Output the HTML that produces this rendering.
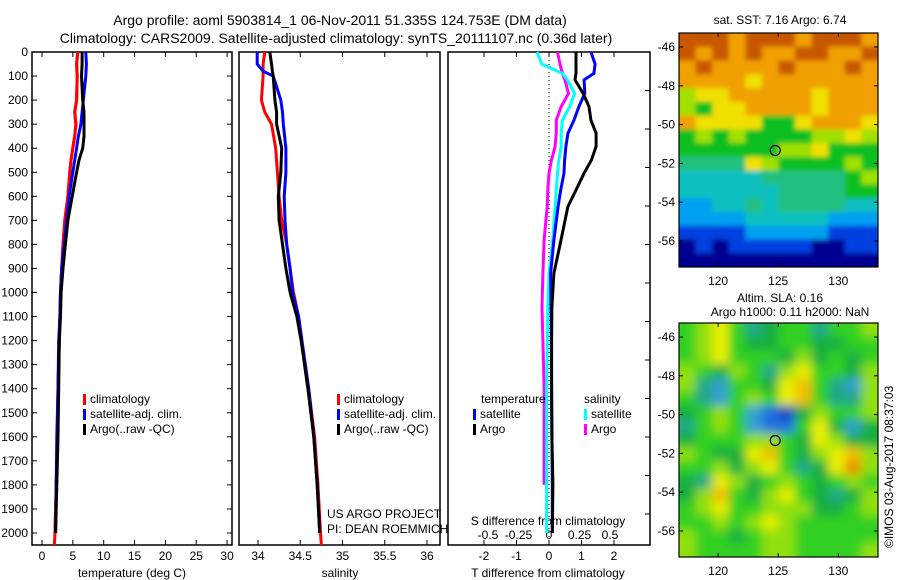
<!DOCTYPE html>
<html><head><meta charset="utf-8"><style>
body{margin:0;background:#fff;}
svg{display:block;font-family:"Liberation Sans",sans-serif;}
</style></head><body>
<svg id="c" width="900" height="580" viewBox="0 0 900 580">
<defs>
<filter id="blurS" x="-5%" y="-5%" width="110%" height="110%"><feGaussianBlur stdDeviation="2.5"/></filter>
<filter id="blurL" x="-5%" y="-5%" width="110%" height="110%"><feGaussianBlur stdDeviation="5"/></filter>
<clipPath id="clipTop"><rect x="679" y="33" width="199" height="234"/></clipPath>
<clipPath id="clipBot"><rect x="679" y="323" width="199" height="234"/></clipPath>
</defs>
<rect width="900" height="580" fill="#fff"/>
<text x="340" y="25" font-size="14" text-anchor="middle">Argo profile: aoml 5903814_1 06-Nov-2011 51.335S 124.753E (DM data)</text>
<text x="336" y="43" font-size="14" text-anchor="middle">Climatology: CARS2009. Satellite-adjusted climatology: synTS_20111107.nc (0.36d later)</text>
<g id="g"></g>
</svg>
<script>
// ---- data ----
const depths = [0,50,100,200,250,300,350,400,450,500,600,700,800,900,1000,1100,1200,1400,1600,1800,2000];
const tempClim = [5.8,5.6,5.7,5.6,5.3,5.5,5.3,5.0,4.7,4.5,4.2,3.7,3.4,3.2,3.0,2.9,2.8,2.6,2.5,2.3,2.1];
const tempSat  = [7.1,7.2,7.1,6.7,6.5,6.3,5.9,5.6,5.3,5.0,4.4,4.0,3.6,3.2,3.0,2.9,2.7,2.6,2.4,2.3,2.2];
const tempArgo = [6.5,6.5,6.4,6.6,6.8,6.8,6.8,6.6,6.0,5.6,4.9,4.2,3.8,3.4,3.1,3.0,2.8,2.7,2.6,2.4,2.2];
const salDepths = [0,50,80,100,200,250,300,400,500,600,700,800,900,1000,1100,1200,1400,1600,1800,2000];
const salClim = [34.08,34.06,34.06,34.06,34.04,34.08,34.16,34.21,34.23,34.25,34.28,34.34,34.38,34.42,34.48,34.52,34.60,34.67,34.71,34.74];
const salSat  = [33.99,33.99,34.06,34.18,34.27,34.29,34.30,34.33,34.33,34.31,34.32,34.34,34.38,34.41,34.48,34.52,34.60,34.66,34.70,34.73];
const salArgo = [34.14,34.16,34.17,34.18,34.20,34.22,34.22,34.28,34.27,34.24,34.25,34.29,34.33,34.38,34.46,34.51,34.59,34.66,34.70,34.73];
const diffDepths = [0,50,89,116,172,227,283,338,393,450,504,574,643,782,920,1060,1200,1400,1600,1800,2000];
const tDiffSat  = [1.29,1.42,1.38,1.08,1.10,0.92,0.77,0.58,0.52,0.48,0.46,0.36,0.28,0.15,0.05,0.06,0.07,0.08,0.09,0.10,0.10];
const tDiffArgo = [0.83,0.83,0.83,0.80,1.05,1.23,1.29,1.45,1.45,1.30,1.08,0.83,0.58,0.37,0.15,0.09,0.08,0.08,0.09,0.12,0.10];
const sDiffSat  = [-0.098,-0.06,0.11,0.15,0.21,0.17,0.11,0.10,0.10,0.08,0.07,0.06,0.05,0.03,0.0,-0.01,-0.015,-0.02,-0.02,-0.02,-0.02];
const sDiffArgo = [0.07,0.09,0.11,0.13,0.16,0.10,0.06,0.06,0.05,0.02,0.0,-0.01,-0.015,-0.04,-0.05,-0.057,-0.05,-0.04,-0.04,-0.04,null];
const depthTicks = [0,100,200,300,400,500,600,700,800,900,1000,1100,1200,1300,1400,1500,1600,1700,1800,1900,2000];
const tempTicks = [0,5,10,15,20,25,30];
const salTicks = [34,34.5,35,35.5,36];
const tdTicks = [-2,-1,0,1,2];
const sdTicks = [-0.5,-0.25,0,0.25,0.5];
const sdTickLabels = ["-0.5","-0.25","0","0.25","0.5"];
const latTicks = [-46,-48,-50,-52,-54,-56];
const lonTicks = [120,125,130];
const sstGrid = ["999899989998","989898899889","898888988898","888878888888","677888887888","657788887888","877775578887","565655556676","555555667555","444476555565","333334444456","333333444455","223343444433","222233333222","111122222111","010111110011","000000000000"];
const slaGrid = ["567534553556","567544554455","567555464545","654653675546","632554785326","532565785336","456521046556","356521157424","455566547644","654478546786","556467534796","437645654565","468546754346","567556664456","556567655555","655456655555","655556655556"];
const argoLon = 124.753, argoLat = -51.335;
// ---- styles ----
const sstPal = ["#000090","#0040e0","#00a0f0","#10c0c0","#20c080","#10c020","#a0e000","#f0e000","#f0a000","#c85800"];
const slaPal = ["#1040c0","#2070e0","#30a0d0","#20a888","#18b040","#30d020","#90e010","#e8f000","#f0c000","#e89000"];

const NS="http://www.w3.org/2000/svg";
const g=document.getElementById('g');
function el(t,a,p){const e=document.createElementNS(NS,t);for(const k in a)e.setAttribute(k,a[k]);(p||g).appendChild(e);return e;}
const Y0=52, YS=0.2405, YB=545;
const yD=d=>Y0+d*YS;
const xT=v=>42+v*6.17;
const xS=v=>258+(v-34)*84.5;
const xTD=v=>549+v*32.5;
const xSD=v=>549+v*122;

function frame(x0,x1,name){
  const r=el('rect',{x:x0,y:Y0,width:x1-x0,height:YB-Y0,fill:'none',stroke:'#000','stroke-width':1.5});
  
  
}
function xticks(vals,fx,labels,ly,name){
  vals.forEach((v,i)=>{
    const x=fx(v);
    el('line',{x1:x,x2:x,y1:Y0,y2:Y0+5,stroke:'#000'});
    el('line',{x1:x,x2:x,y1:YB,y2:YB-5,stroke:'#000'});
    if(labels){const t=el('text',{x:x,y:ly,'font-size':12,'text-anchor':'middle'});t.textContent=labels[i];
      
      }
  });
}
function line(ds,vs,fx,color,name,w){
  let pts=[];ds.forEach((d,i)=>{if(vs[i]!==null&&vs[i]!==undefined)pts.push(fx(vs[i]).toFixed(1)+','+yD(d).toFixed(1));});
  const p=el('polyline',{points:pts.join(' '),fill:'none',stroke:color,'stroke-width':w||3,'stroke-linejoin':'round'});
  
  
}
function text(x,y,s,name,opt){const t=el('text',Object.assign({x:x,y:y,'font-size':12},opt||{}));t.textContent=s;
  
  return t;}

// panel 1
frame(32,232,'temperature-panel');
depthTicks.forEach(d=>{const y=yD(d);
  el('line',{x1:32,x2:37,y1:y,y2:y,stroke:'#000'});el('line',{x1:232,x2:227,y1:y,y2:y,stroke:'#000'});
  text(28,y+4,String(d),'depth-tick-label',{'text-anchor':'end'});});
xticks(tempTicks,xT,tempTicks.map(String),560,'temperature-tick-label');
text(132,577,'temperature (deg C)','x-axis-title-temperature',{'text-anchor':'middle'});
line(depths,tempClim,xT,'#f00','temperature-climatology-line');
line(depths.concat([2050]),tempClim.concat([2.0]),xT,'#f00','temperature-climatology-line-deep');
line(depths,tempSat,xT,'#00f','temperature-satellite-line');
line(depths,tempArgo,xT,'#000','temperature-argo-line');

function legend(x,y,items,pfx){items.forEach((it,i)=>{
  const r=el('rect',{x:x,y:y+i*15-9,width:3,height:11,fill:it[1]});
  
  
  text(x+7,y+i*15,it[0],pfx+'-entry');});}
legend(83,403,[['climatology','#f00'],['satellite-adj. clim.','#00f'],['Argo(..raw -QC)','#000']],'temperature-legend');

// panel 2
frame(239,440,'salinity-panel');
xticks(salTicks,xS,salTicks.map(String),560,'salinity-tick-label');
text(340,577,'salinity','x-axis-title-salinity',{'text-anchor':'middle'});
line(salDepths,salClim,xS,'#f00','salinity-climatology-line');
line([2000,2050],[34.74,34.75],xS,'#f00','salinity-climatology-line-deep');
line(salDepths,salSat,xS,'#00f','salinity-satellite-line');
line(salDepths,salArgo,xS,'#000','salinity-argo-line');
legend(337,403,[['climatology','#f00'],['satellite-adj. clim.','#00f'],['Argo(..raw -QC)','#000']],'salinity-legend');
text(327,518,'US ARGO PROJECT','project-label');
text(327,533,'PI: DEAN ROEMMICH','pi-label');

// panel 3
frame(448,650,'difference-panel');
for(let y=Y0;y<=YB;y+=38.5){el('line',{x1:650,x2:645,y1:y,y2:y,stroke:'#000'});}
el('line',{x1:549,x2:549,y1:Y0,y2:YB,stroke:'#000','stroke-dasharray':'1,3'});
xticks(tdTicks,xTD,tdTicks.map(String),560,'t-difference-tick-label');
sdTicks.forEach((v,i)=>text(xSD(v),539,sdTickLabels[i],'s-difference-tick-label',{'text-anchor':'middle'}));
text(548,525,'S difference from climatology','s-difference-axis-title',{'text-anchor':'middle'});
text(548,577,'T difference from climatology','t-difference-axis-title',{'text-anchor':'middle'});
line(diffDepths,sDiffArgo,xSD,'#f0f','s-diff-argo-line');
line(diffDepths,sDiffSat,xSD,'#0ff','s-diff-satellite-line');
line(diffDepths,tDiffSat,xTD,'#00f','t-diff-satellite-line');
line(diffDepths,tDiffArgo,xTD,'#000','t-diff-argo-line');
text(481,403,'temperature','diff-legend-temperature-heading');
text(584,403,'salinity','diff-legend-salinity-heading');
legend(473,418,[['satellite','#00f'],['Argo','#000']],'diff-legend-temperature');
legend(584,418,[['satellite','#0ff'],['Argo','#f0f']],'diff-legend-salinity');

// maps
const MX0=679,MX1=878,LON0=116.75,LON1=133.3;
const mLon=v=>MX0+(v-LON0)/(LON1-LON0)*(MX1-MX0);
function map(grid,pal,y0,y1,lat46y,lat56y,name,clip,blur){
  const mLat=v=>lat46y+(v+46)/(-10)*(lat56y-lat46y);
  const cg=el('g',{'clip-path':'url(#'+clip+')'});
  const bg=el('g',{filter:'url(#'+blur+')'},cg);
  const rows=grid.length,cols=grid[0].length,cw=(MX1-MX0)/cols,ch=(y1-y0)/rows;
  grid.forEach((row,r)=>{for(let c=0;c<cols;c++){
    const x=MX0+c*cw,y=y0+r*ch;
    const ex0=(c===0)?-8:0, ex1=(c===cols-1)?8:0, ey0=(r===0)?-8:0, ey1=(r===rows-1)?8:0;
    const cell=el('rect',{x:x+ex0,y:y+ey0,width:cw+0.6-ex0+ex1,height:ch+0.6-ey0+ey1,fill:pal[+row[c]]},bg);
    
    }});
  const f=el('rect',{x:MX0,y:y0,width:MX1-MX0,height:y1-y0,fill:'none',stroke:'#000','stroke-width':1.2});
  
  
  latTicks.forEach(v=>{const y=mLat(v);el('line',{x1:MX0,x2:MX0+4,y1:y,y2:y,stroke:'#000'});el('line',{x1:MX1,x2:MX1-4,y1:y,y2:y,stroke:'#000'});
    text(675,y+4,String(v),name+'-lat-label',{'text-anchor':'end'});});
  lonTicks.forEach(v=>{const x=mLon(v);el('line',{x1:x,x2:x,y1:y0,y2:y0+4,stroke:'#000'});el('line',{x1:x,x2:x,y1:y1,y2:y1-4,stroke:'#000'});
    text(x,y1+18,String(v),name+'-lon-label',{'text-anchor':'middle'});});
  const m=el('circle',{cx:mLon(argoLon),cy:mLat(argoLat),r:5,fill:'none',stroke:'#000','stroke-width':1.2});
  
  
}
map(sstGrid,sstPal,33,267,47,241,'sst-map','clipTop','blurS');
map(slaGrid,slaPal,323,557,337,531,'sla-map','clipBot','blurL');
text(780,24,'sat. SST: 7.16 Argo: 6.74','sst-map-title',{'text-anchor':'middle'});
text(780,302,'Altim. SLA: 0.16','sla-map-title',{'text-anchor':'middle'});
text(790,316,'Argo h1000: 0.11 h2000: NaN','sla-map-subtitle',{'text-anchor':'middle'});
text(0,0,'©IMOS 03-Aug-2017 08:37:03','timestamp-label',{transform:'translate(893,548) rotate(-90)'});
</script>
</body></html>
